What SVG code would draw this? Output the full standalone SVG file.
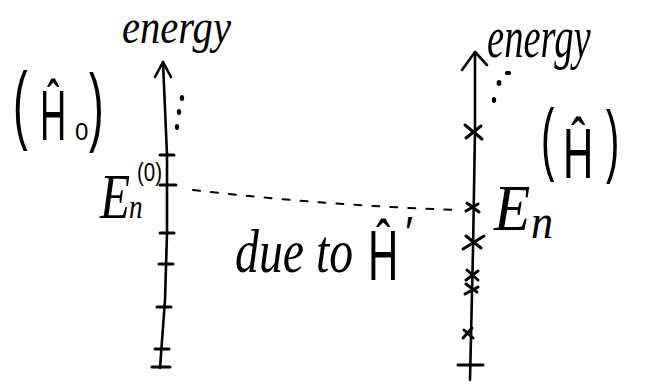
<svg xmlns="http://www.w3.org/2000/svg" width="652" height="390" viewBox="0 0 652 390">
<style>
  .ln{fill:none;stroke:#000;stroke-width:2.6;stroke-linecap:round;stroke-linejoin:round}
  .tk{fill:none;stroke:#000;stroke-width:3;stroke-linecap:round}
  .hw{font-family:"Liberation Serif",serif;font-style:italic;fill:#000}
  .hs{font-family:"Liberation Sans",sans-serif;fill:#000}
  .dot{fill:#000}
  .dash{fill:none;stroke:#000;stroke-width:2;stroke-dasharray:7 11;stroke-linecap:round}
</style>
<rect width="652" height="390" fill="#fff"/>

<g id="left-spectrum">
  <text class="hw" transform="translate(122,43) scale(0.846,1)" font-size="48">energy</text>
  <path class="ln" d="M163,62 L167,155 L167,233 L165,300 L160,368"/>
  <path class="ln" d="M155,77 L163,62 L171,77"/>
  <ellipse class="dot" cx="182" cy="98" rx="2.2" ry="3"/>
  <ellipse class="dot" cx="179" cy="112" rx="2.2" ry="3"/>
  <ellipse class="dot" cx="177" cy="127" rx="2.2" ry="3"/>
  <path class="tk" d="M160,155 H174 M160,185 H176 M160,233 H174 M159,264 H173 M157,307 H171 M155,349 H169 M152,367 H170"/>
  <text class="hs" transform="translate(13,133) scale(0.5,1)" font-size="88">(</text>
  <text class="hs" transform="translate(40,140) scale(0.52,1)" font-size="70">Ĥ</text>
  <text class="hs" x="75" y="140" font-size="24">0</text>
  <text class="hs" transform="translate(89,135) scale(0.5,1)" font-size="88">)</text>
  <text class="hw" transform="translate(100,218) scale(0.77,1)" font-size="64">E</text>
  <text class="hw" transform="translate(129,218) scale(0.8,1)" font-size="34">n</text>
  <text class="hs" transform="translate(137,181) scale(0.82,1)" font-size="25">(0)</text>
</g>

<g id="right-spectrum">
  <text class="hw" transform="translate(487,57) scale(0.644,1)" font-size="60">energy</text>
  <path class="ln" d="M475,52 L475,130 L473,250 L470,380"/>
  <path class="ln" d="M462,70 L475,52 L487,65"/>
  <ellipse class="dot" cx="508" cy="73" rx="3" ry="2.2"/>
  <ellipse class="dot" cx="499" cy="83" rx="2.4" ry="3"/>
  <ellipse class="dot" cx="494" cy="100" rx="2.2" ry="3"/>
  <path class="tk" d="M465,125 L482,139 M466,138 L481,126"/>
  <path class="tk" d="M467,203 L479,212 M466,211 L478,204"/>
  <path class="tk" d="M463,249 L484,236 M466,236 L481,248"/>
  <path class="tk" d="M467,270 L478,280 M466,280 L478,271"/>
  <path class="tk" d="M466,284 L477,292 M465,294 L478,287"/>
  <path class="tk" d="M464,330 L473,338 M463,338 L472,328"/>
  <path class="tk" d="M458,365 H483"/>
  <text class="hs" transform="translate(541,165) scale(0.5,1)" font-size="80">(</text>
  <text class="hs" transform="translate(563,178) scale(0.6,1)" font-size="70">Ĥ</text>
  <text class="hs" transform="translate(606,167) scale(0.5,1)" font-size="80">)</text>
  <text class="hw" transform="translate(494,230) scale(0.9,1)" font-size="66">E</text>
  <text class="hw" transform="translate(531,238) scale(0.92,1)" font-size="48">n</text>
</g>

<g id="connectors">
  <path class="dash" d="M193,190 Q330,206 462,210"/>
  <text class="hw" transform="translate(235,272) scale(0.853,1.09)" font-size="56">due to</text>
  <text class="hs" transform="translate(368,280) scale(0.6,1)" font-size="70">Ĥ</text>
  <text class="hs" x="405" y="248" font-size="44">′</text>
</g>
</svg>
